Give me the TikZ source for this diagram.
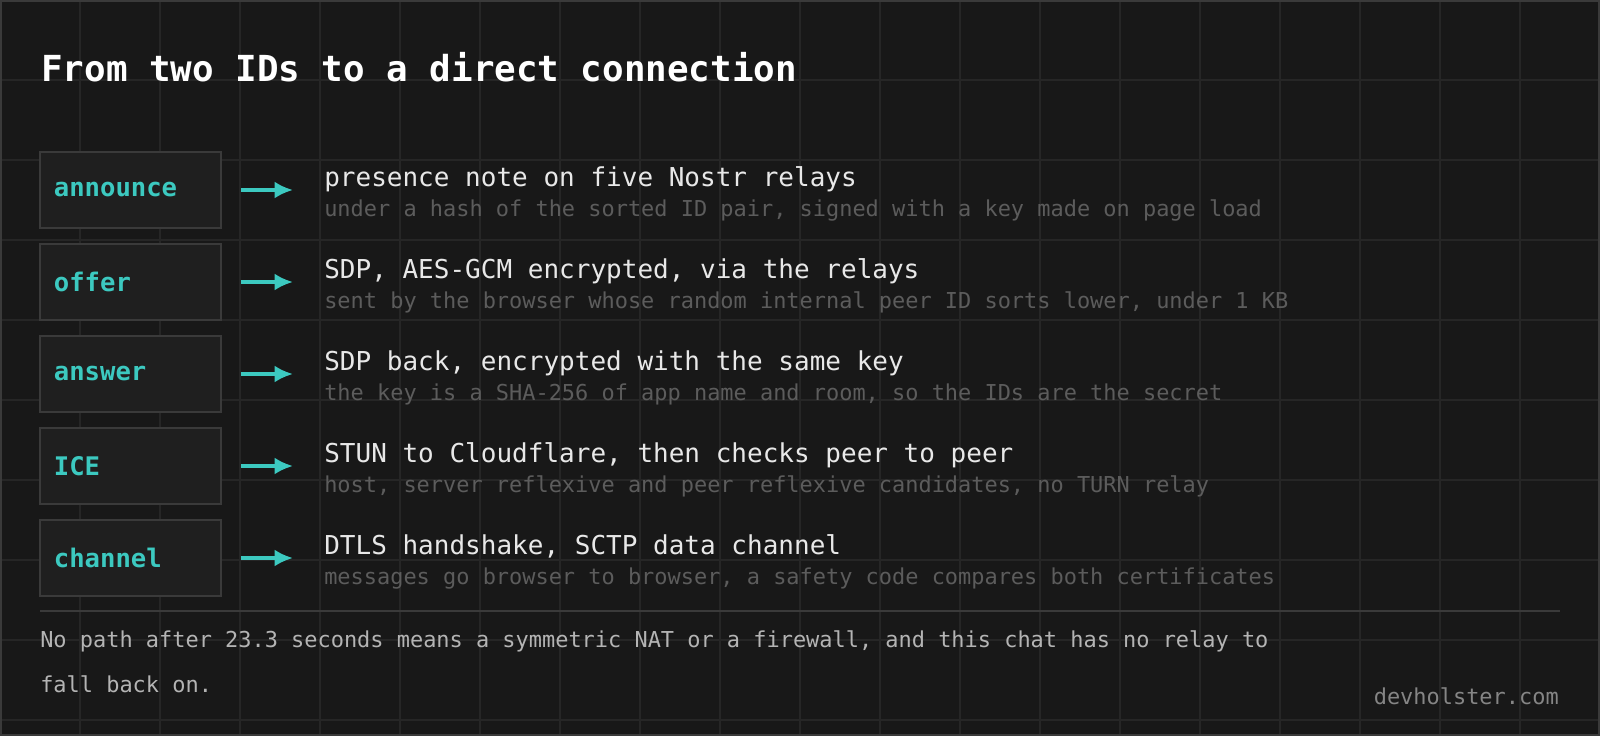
\documentclass[tikz,border=0pt]{standalone}
\usepackage{fontspec}
\setmonofont{DejaVu Sans Mono}
\usetikzlibrary{positioning,arrows.meta}
\definecolor{bgc}{HTML}{181818}
\definecolor{gridc}{HTML}{262626}
\definecolor{boxc}{HTML}{1F1F1F}
\definecolor{boxline}{HTML}{3A3A3A}
\definecolor{teal}{HTML}{3CC9C0}
\definecolor{maintxt}{HTML}{E8E8E8}
\definecolor{subtxt}{HTML}{5C5C5C}
\definecolor{foottxt}{HTML}{B4B4B4}
\tikzset{
  stage/.style={draw=boxline, fill=boxc, line width=1.5pt, minimum width=4.53cm, minimum height=1.9cm,
    inner sep=0pt, text=teal, font=\ttfamily\bfseries\fontsize{18.2}{21}\selectfont},
  headline/.style={anchor=base west, inner sep=0pt, text=maintxt, font=\ttfamily\fontsize{18.5}{21}\selectfont},
  subline/.style={anchor=base west, inner sep=0pt, text=subtxt, font=\ttfamily\fontsize{15.6}{18}\selectfont},
  go/.style={teal, line width=2.5pt, -{Latex[length=13pt,width=12pt]}}
}
\begin{document}
\begin{tikzpicture}[x=0.025cm,y=-0.025cm]
\fill[bgc] (0,0) rectangle (1600,736);
\useasboundingbox (0,0) rectangle (1600,736);
% grid
\foreach \gx in {80,160,...,1560} \draw[gridc, line width=1pt] (\gx,0) -- (\gx,736);
\foreach \gy in {80,160,...,720} \draw[gridc, line width=1pt] (0,\gy) -- (1600,\gy);
\draw[boxline, line width=1.5pt] (1,1) rectangle (1599,735);
\node[anchor=base west, inner sep=0pt, text=white, font=\ttfamily\bfseries\fontsize{25.5}{29}\selectfont] (title) at (41,82) {From two IDs to a direct connection};
% stages
\foreach \i/\name/\lab/\ltop/\lbot in {
  0/ann/announce/{presence note on five Nostr relays}/{under a hash of the sorted ID pair, signed with a key made on page load},
  1/off/offer/{SDP, AES-GCM encrypted, via the relays}/{sent by the browser whose random internal peer ID sorts lower, under 1 KB},
  2/ans/answer/{SDP back, encrypted with the same key}/{the key is a SHA-256 of app name and room, so the IDs are the secret},
  3/ice/ICE/{STUN to Cloudflare, then checks peer to peer}/{host, server reflexive and peer reflexive candidates, no TURN relay},
  4/chn/channel/{DTLS handshake, SCTP data channel}/{messages go browser to browser, a safety code compares both certificates}}{
  \node[stage, text width=3.83cm, align=left] (\name) at (130.5,190+92*\i) {\lab};
  \coordinate (\name a) at (241,190+92*\i);
  \coordinate (\name b) at (293,190+92*\i);
  \draw[go] (\name a) -- (\name b);
  \node[headline] (\name t) at (324,186+92*\i) {\ltop};
  \node[subline] (\name s) at (324,216+92*\i) {\lbot};
}
\coordinate (sepl) at (40,611);
\coordinate (sepr) at (1560,611);
\draw[boxline, line width=1.5pt] (sepl) -- (sepr);
\node[anchor=base west, inner sep=0pt, text=foottxt, font=\ttfamily\fontsize{15.6}{32}\selectfont, align=left] (foot) at (40,692)
  {No path after 23.3 seconds means a symmetric NAT or a firewall, and this chat has no relay to\\fall back on.};
\node[anchor=base east, inner sep=0pt, text=subtxt!75!white, font=\ttfamily\fontsize{15.6}{18}\selectfont] (site) at (1559,704) {devholster.com};
\end{tikzpicture}
\end{document}
